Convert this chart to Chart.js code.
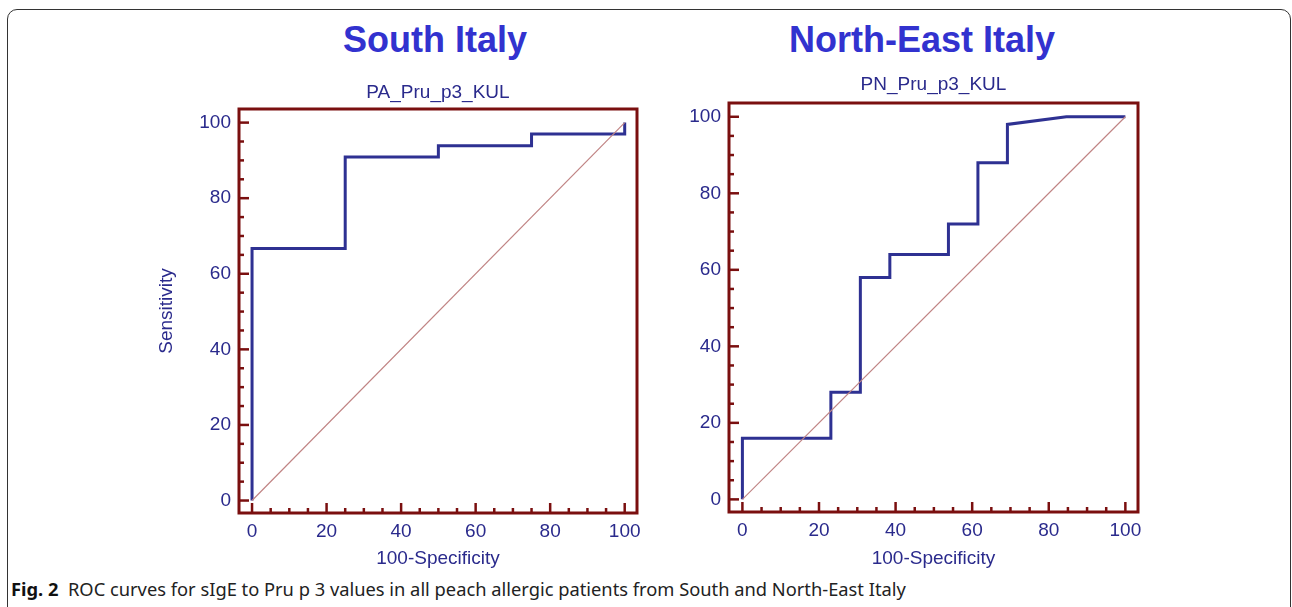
<!DOCTYPE html>
<html>
<head>
<meta charset="utf-8">
<script src="https://cdn.jsdelivr.net/npm/chart.js@4"></script>
<style>
  body { margin: 0; background: #fff; width: 1292px; height: 607px; overflow: hidden; position: relative; font-family: "Liberation Sans", Arial, sans-serif; }
  .box { position: absolute; left: 7px; top: 9px; width: 1282px; height: 620px; border: 1.5px solid #333; border-radius: 10px; }
  .big { position: absolute; top: 22px; width: 400px; text-align: center; font: bold 36px/36px "Liberation Sans", Arial, sans-serif; color: #3232cf; }
  canvas { position: absolute; }
  #caption { position: absolute; left: 11px; top: 577px; font: 18.5px/24px "Noto Sans", sans-serif; color: #222; white-space: nowrap; transform-origin: left center; }
  #caption b { color: #111; }
</style>
</head>
<body>
<div class="box"></div>
<div class="big" style="left:235px">South Italy</div>
<div class="big" style="left:722px">North-East Italy</div>
<canvas id="south" width="510" height="515" style="left:150px; top:60px"></canvas>
<canvas id="north" width="490" height="515" style="left:670px; top:60px"></canvas>
<div id="caption"><b>Fig. 2</b>&nbsp; ROC curves for sIgE to Pru p 3 values in all peach allergic patients from South and North-East Italy</div>
<script>
  // ROC points (100-Specificity, Sensitivity)
  const southX = [0, 0, 25, 25, 50, 50, 75, 75, 100, 100]
  const southY = [0, 66.7, 66.7, 90.9, 90.9, 93.9, 93.9, 97, 97, 100]
  const northX = [0, 0, 23.1, 23.1, 30.8, 30.8, 38.5, 38.5, 53.8, 53.8, 61.5, 61.5, 69.2, 69.2, 84.6, 100]
  const northY = [0, 16, 16, 28, 28, 58, 58, 64, 64, 72, 72, 88, 88, 98, 100, 100]
  const diagX = [0, 100]
  const diagY = [0, 100]
  const tickValues = [0, 20, 40, 60, 80, 100]
  const minorTicks = [0, 5, 10, 15, 20, 25, 30, 35, 40, 45, 50, 55, 60, 65, 70, 75, 80, 85, 90, 95, 100]

  const navy = '#2a2a8c'
  const frameColor = '#7a0f0f'

  const toPoints = (xs, ys) => xs.map((v, i) => ({ x: v, y: ys[i] }))

  const frameTicks = {
    id: 'frameTicks',
    beforeDatasetsDraw(chart) {
      const { ctx, chartArea: a, scales: { x, y } } = chart
      ctx.save()
      ctx.strokeStyle = frameColor
      ctx.lineWidth = 2.5
      minorTicks.forEach(v => {
        const len = v % 20 === 0 ? 10 : 5
        const px = x.getPixelForValue(v)
        ctx.beginPath(); ctx.moveTo(px, a.bottom); ctx.lineTo(px, a.bottom - len); ctx.stroke()
        const py = y.getPixelForValue(v)
        ctx.beginPath(); ctx.moveTo(a.left, py); ctx.lineTo(a.left + len, py); ctx.stroke()
      })
      ctx.restore()
    },
    afterDraw(chart) {
      const { ctx, chartArea: a } = chart
      ctx.save()
      ctx.strokeStyle = frameColor
      ctx.lineWidth = 3
      ctx.strokeRect(a.left, a.top, a.right - a.left, a.bottom - a.top)
      ctx.restore()
    }
  }

  const makeChart = (id, xs, ys, name, opts) => {
    new Chart(id, {
      type: 'scatter',
      data: {
        datasets: [{
          data: toPoints(diagX, diagY),
          showLine: true,
          borderColor: '#c08484',
          borderWidth: 1.2,
          pointRadius: 0
        },
        {
          data: toPoints(xs, ys),
          showLine: true,
          borderColor: '#2e3192',
          borderWidth: 3,
          borderJoinStyle: 'miter',
          pointRadius: 0
        }]
      },
      options: {
        responsive: false,
        animation: false,
        layout: { padding: { left: 0, right: opts.padRight, top: 0, bottom: 0 } },
        plugins: {
          legend: { display: false },
          tooltip: { enabled: false },
          title: {
            display: true,
            text: name,
            fullSize: false,
            color: navy,
            font: { family: 'Liberation Sans', size: 19, weight: 'normal' },
            padding: { top: opts.titleTop, bottom: opts.titleBottom }
          }
        },
        scales: {
          x: {
            type: 'linear',
            min: -3.5,
            max: 103.3,
            afterBuildTicks: s => { s.ticks = tickValues.map(v => ({ value: v })) },
            afterFit: s => { s.height = opts.xHeight },
            grid: { display: false, drawTicks: false },
            border: { display: false },
            ticks: { color: navy, padding: 7, font: { family: 'Liberation Sans', size: 19 } },
            title: { display: true, text: '100-Specificity', color: navy, padding: { top: 0, bottom: 5 }, font: { family: 'Liberation Sans', size: 19 } }
          },
          y: {
            type: 'linear',
            min: -3.3,
            max: 103.6,
            afterBuildTicks: s => { s.ticks = tickValues.map(v => ({ value: v })) },
            afterFit: s => { s.width = opts.yWidth },
            grid: { display: false, drawTicks: false },
            border: { display: false },
            ticks: { color: navy, padding: 8, font: { family: 'Liberation Sans', size: 19 } },
            title: { display: opts.yTitle, text: 'Sensitivity', color: navy, padding: { top: 5, bottom: 0 }, font: { family: 'Liberation Sans', size: 19 } }
          }
        }
      },
      plugins: [frameTicks]
    })
  }

  document.addEventListener('DOMContentLoaded', () => {
    makeChart('south', southX, southY, 'PA_Pru_p3_KUL', { padRight: 23, titleTop: 21.6, titleBottom: 4.6, xHeight: 62, yWidth: 89, yTitle: true })
    makeChart('north', northX, northY, 'PN_Pru_p3_KUL', { padRight: 22, titleTop: 13.6, titleBottom: 6.6, xHeight: 63, yWidth: 59, yTitle: false })

    const cap = document.getElementById('caption')
    cap.style.transform = 'scaleX(' + (895 / cap.scrollWidth) + ')'
  })
</script>
</body>
</html>
